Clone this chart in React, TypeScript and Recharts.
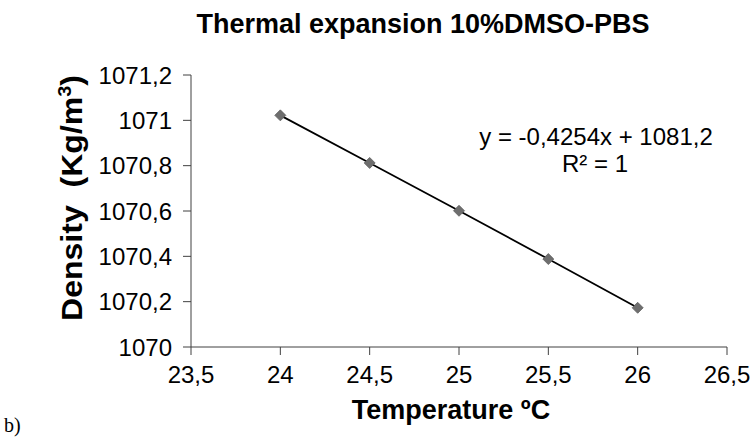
import React from 'react';
import { ComposedChart, Line, XAxis, YAxis } from 'recharts';

const temperatures = [24, 24.5, 25, 25.5, 26];
const densities = [1071.022, 1070.812, 1070.601, 1070.388, 1070.173];
const xTicks = [23.5, 24, 24.5, 25, 25.5, 26, 26.5];
const yTicks = [1070, 1070.2, 1070.4, 1070.6, 1070.8, 1071, 1071.2];
const chartTitle = 'Thermal expansion 10%DMSO-PBS';
const equationText = 'y = -0,4254x + 1081,2';
const rSquaredText = 'R² = 1';
const xLabelText = 'Temperature ºC';
const panelTag = 'b)';

const FONT = '"Liberation Sans", Arial, Helvetica, sans-serif';

const data = temperatures.map((t, i) => ({ t, d: densities[i] }));
const fmt = (v: number) => String(v).replace('.', ',');

const Diamond = (props: any) => {
  const { cx, cy, index } = props;
  if (cx == null || cy == null) return null;
  const r = 5.5;
  return (
    <polygon
      key={`dm-${index}`}
      points={`${cx},${cy - r} ${cx + r},${cy} ${cx},${cy + r} ${cx - r},${cy}`}
      fill="#6e6e6e"
      stroke="#5e5e5e"
      strokeWidth={0.8}
    />
  );
};

export default function App() {
  return (
    <div style={{ position: 'absolute', left: 0, top: 0, width: 750, height: 439, background: '#fff' }}>
      <ComposedChart width={750} height={439} data={data} margin={{ top: 75, right: 23, bottom: 0, left: 0 }}>
        <XAxis
          dataKey="t"
          type="number"
          domain={[23.5, 26.5]}
          ticks={xTicks}
          interval={0}
          allowDataOverflow
          tickFormatter={fmt}
          height={92}
          stroke="#404040"
          tickSize={8}
          tickMargin={11}
          tick={{ fill: '#000', fontSize: 24, fontFamily: FONT }}
        />
        <YAxis
          type="number"
          domain={[1070, 1071.2]}
          ticks={yTicks}
          interval={0}
          allowDataOverflow
          tickFormatter={fmt}
          width={191}
          stroke="#404040"
          tickSize={8}
          tickMargin={11}
          tick={{ fill: '#000', fontSize: 24, fontFamily: FONT }}
        />
        <Line dataKey="d" stroke="none" dot={Diamond} activeDot={false} isAnimationActive={false} />
        <Line dataKey="d" stroke="#000" strokeWidth={1.8} dot={false} activeDot={false} isAnimationActive={false} />
      </ComposedChart>
      <svg
        width={750}
        height={439}
        style={{ position: 'absolute', left: 0, top: 0, pointerEvents: 'none' }}
      >
        <text x={423} y={33} textAnchor="middle" fontFamily={FONT} fontWeight="bold" fontSize={27} fill="#000">
          {chartTitle}
        </text>
        <text x={596} y={145} textAnchor="middle" fontFamily={FONT} fontSize={24} fill="#000">
          {equationText}
        </text>
        <text x={595} y={172} textAnchor="middle" fontFamily={FONT} fontSize={24} fill="#000">
          {rSquaredText}
        </text>
        <text
          transform="translate(82,198) rotate(-90)"
          textAnchor="middle"
          fontFamily={FONT}
          fontWeight="bold"
          fontSize={29}
          fill="#000"
          textLength={246}
          lengthAdjust="spacingAndGlyphs"
          style={{ whiteSpace: 'pre' }}
        >
          {'Density  (Kg/m'}
          <tspan dy={-11} fontSize={18}>3</tspan>
          <tspan dy={11}>)</tspan>
        </text>
        <text x={451} y={419} textAnchor="middle" fontFamily={FONT} fontWeight="bold" fontSize={27} fill="#000">
          {xLabelText}
        </text>
        <text x={4} y={432} fontFamily={'"Liberation Serif", "Times New Roman", serif'} fontSize={20} fill="#000">
          {panelTag}
        </text>
      </svg>
    </div>
  );
}
